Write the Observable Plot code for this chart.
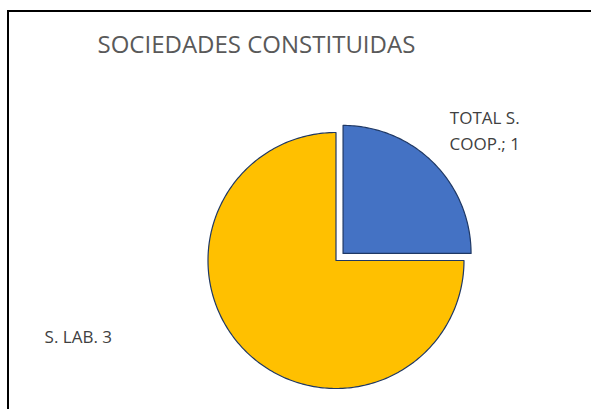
<!DOCTYPE html>
<html>
<head>
<meta charset="utf-8">
<script src="https://cdn.jsdelivr.net/npm/d3@7"></script>
<script src="https://cdn.jsdelivr.net/npm/@observablehq/plot@0.6"></script>
<style>
  html, body { margin: 0; padding: 0; background: #fff; overflow: hidden; }
  #wrap { position: relative; width: 591px; height: 409px; overflow: hidden; }
  #border { position: absolute; left: 7px; top: 10px; right: -20px; bottom: -20px;
            border-left: 2px solid #000; border-top: 2px solid #000; pointer-events: none; }
</style>
</head>
<body>
<div id="wrap"><div id="border"></div></div>
<script>
// ---- data ----
const title = "SOCIEDADES CONSTITUIDAS";
const categories = ["TOTAL S. COOP.", "S. LAB."];
const values = [1, 3];
const labels = ["TOTAL S.\nCOOP.; 1", "S. LAB. 3"];
const colors = ["#4472C4", "#FFC000"];

// ---- layout ----
const W = 591, H = 409;
const cx = 335.5, cy = 260, R = 128;        // pie centre / radius in px
const explode = [0.078, 0];                 // fraction of radius
const labelR = 1.4;
const labelOffsets = [[22, -5], [-131, -53]];

const arcs = d3.pie().sort(null).value(d => d)(values);

const marks = [];
arcs.forEach((a, i) => {
  const mid = (a.startAngle + a.endAngle) / 2;
  const ox = explode[i] * Math.sin(mid), oy = explode[i] * Math.cos(mid);
  const n = Math.max(2, Math.ceil((a.endAngle - a.startAngle) / (Math.PI / 180)));
  const pts = [{x: ox, y: oy}];
  for (let k = 0; k <= n; k++) {
    const t = a.startAngle + (a.endAngle - a.startAngle) * k / n;
    pts.push({x: ox + Math.sin(t), y: oy + Math.cos(t)});
  }
  marks.push(Plot.line(pts, {x: "x", y: "y", curve: "linear-closed",
    fill: colors[i], stroke: "#1F3864", strokeWidth: 1.2}));
});

const labelData = arcs.map((a, i) => {
  const mid = (a.startAngle + a.endAngle) / 2;
  return {x: labelR * Math.sin(mid), y: labelR * Math.cos(mid), text: labels[i], i};
});
labelData.forEach(d => {
  marks.push(Plot.text([d], {x: "x", y: "y", text: "text",
    dx: labelOffsets[d.i][0], dy: labelOffsets[d.i][1],
    fill: "#404040", fontSize: 17, lineHeight: 1.55,
    fontFamily: "Open Sans"}));
});

marks.push(Plot.text([title], {frameAnchor: "top-left", text: d => d,
  dx: 97, dy: 35, textAnchor: "start", lineAnchor: "top",
  fill: "#595959", fontSize: 24, fontFamily: "Open Sans"}));

const chart = Plot.plot({
  width: W, height: H,
  margin: 0,
  x: {domain: [-cx / R, (W - cx) / R], range: [0, W], axis: null},
  y: {domain: [(cy - H) / R, cy / R], range: [H, 0], axis: null},
  style: {background: "transparent", overflow: "visible"},
  marks
});
document.getElementById("wrap").insertBefore(chart, document.getElementById("border"));
</script>
</body>
</html>
